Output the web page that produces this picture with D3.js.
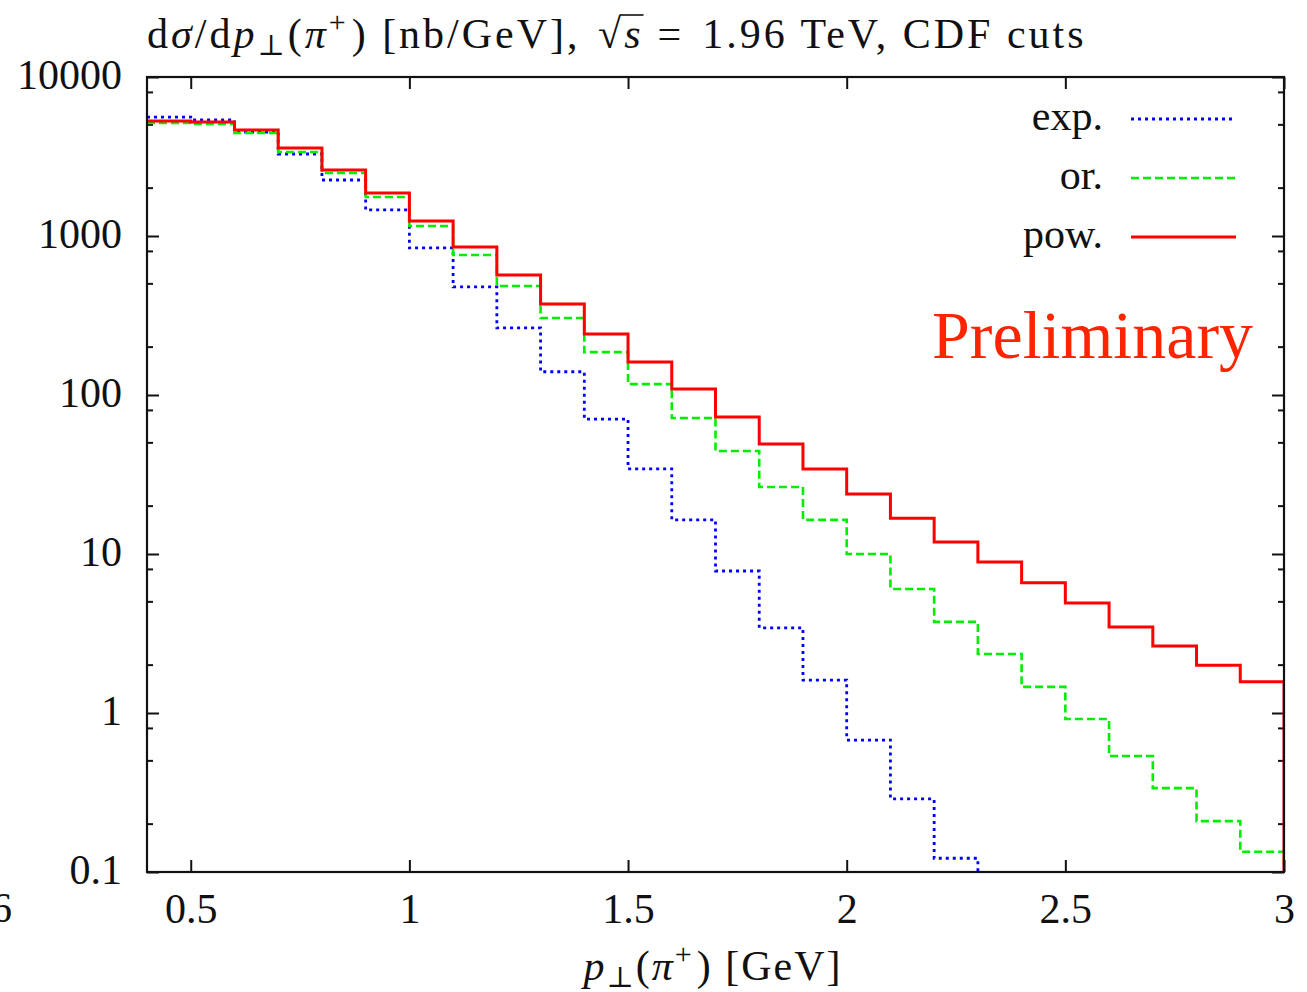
<!DOCTYPE html>
<html>
<head>
<meta charset="utf-8">
<script src="https://cdn.jsdelivr.net/npm/d3@7"></script>
<style>
  html, body { margin: 0; padding: 0; background: #fff; }
  svg text { font-family: "Liberation Serif", "DejaVu Serif", serif; fill: #111; }
</style>
</head>
<body>
<svg id="chart" width="1307" height="992"></svg>
<script>
// Lower edges of the 0.1 GeV bins
const binLow = [0.4, 0.5, 0.6, 0.7, 0.8, 0.9, 1.0, 1.1, 1.2, 1.3, 1.4, 1.5, 1.6,
                1.7, 1.8, 1.9, 2.0, 2.1, 2.2, 2.3, 2.4, 2.5, 2.6, 2.7, 2.8, 2.9];
const binWidth = 0.1;

// dσ/dp⊥ per bin [nb/GeV]
const expVals = [5600, 5370, 4510, 3280, 2250, 1460, 841, 478, 264, 140, 70.6, 34.3, 16.4,
                 7.82, 3.43, 1.61, 0.676, 0.288, 0.122];
const orVals  = [5140, 5060, 4440, 3375, 2490, 1758, 1156, 760, 485, 305, 186, 117, 71.6,
                 44.4, 26.4, 16.4, 10.0, 6.03, 3.74, 2.35, 1.46, 0.916, 0.537, 0.337, 0.209, 0.134];
const powVals = [5285, 5210, 4640, 3575, 2600, 1862, 1242, 853, 569, 373, 242, 161, 109,
                 72.8, 49.2, 34.3, 23.8, 16.8, 11.9, 8.9, 6.6, 4.92, 3.48, 2.64, 2.00, 1.57];

const seriesNames = ["exp.", "or.", "pow."];
const xTicks = [0.5, 1, 1.5, 2, 2.5, 3];
const yTicks = [0.1, 1, 10, 100, 1000, 10000];
const yMinorMult = [2, 5, 8];

const svg = d3.select("#chart");
const margin = { left: 147, right: 1284, top: 77, bottom: 872 };

const x = d3.scaleLinear().domain([0.4, 3.0]).range([margin.left, margin.right]);
const y = d3.scaleLog().domain([0.1, 10000]).range([margin.bottom, margin.top]);

const fontSize = 42;

svg.append("defs").append("clipPath").attr("id", "plotclip")
  .append("rect")
  .attr("x", margin.left).attr("y", margin.top)
  .attr("width", margin.right - margin.left)
  .attr("height", margin.bottom - margin.top);

// minor y ticks (2, 5, 8 per decade)
const yMinor = [];
for (let d = 0.1; d < 10000; d *= 10) yMinorMult.forEach(m => yMinor.push(+(d * m).toPrecision(3)));

const tickG = svg.append("g").attr("stroke", "#111").attr("stroke-width", 2);
yMinor.forEach(v => {
  const yy = y(v);
  tickG.append("line").attr("x1", margin.left).attr("x2", margin.left + 6).attr("y1", yy).attr("y2", yy);
  tickG.append("line").attr("x1", margin.right).attr("x2", margin.right - 6).attr("y1", yy).attr("y2", yy);
});

// bottom axis with ticks pointing into the plot
const xAxis = svg.append("g")
  .attr("transform", `translate(0,${margin.bottom})`)
  .call(d3.axisBottom(x).tickValues(xTicks).tickFormat(d3.format("")).tickSizeInner(-12).tickSizeOuter(0).tickPadding(21));
xAxis.select(".domain").remove();
xAxis.selectAll("line").attr("stroke", "#111").attr("stroke-width", 2);
xAxis.selectAll("text").attr("font-size", fontSize).attr("font-family", "Liberation Serif").attr("fill", "#111");

// top axis ticks
const xTop = svg.append("g")
  .attr("transform", `translate(0,${margin.top})`)
  .call(d3.axisTop(x).tickValues(xTicks).tickFormat("").tickSizeInner(-12).tickSizeOuter(0));
xTop.select(".domain").remove();
xTop.selectAll("line").attr("stroke", "#111").attr("stroke-width", 2);

// left axis
const yAxis = svg.append("g")
  .attr("transform", `translate(${margin.left},0)`)
  .call(d3.axisLeft(y).tickValues(yTicks).tickFormat(d3.format("")).tickSizeInner(-12).tickSizeOuter(0).tickPadding(25));
yAxis.select(".domain").remove();
yAxis.selectAll("line").attr("stroke", "#111").attr("stroke-width", 2);
yAxis.selectAll("text").attr("font-size", fontSize).attr("font-family", "Liberation Serif").attr("fill", "#111").attr("dy", "0.27em");

// right axis ticks
const yRight = svg.append("g")
  .attr("transform", `translate(${margin.right},0)`)
  .call(d3.axisRight(y).tickValues(yTicks).tickFormat("").tickSizeInner(-12).tickSizeOuter(0));
yRight.select(".domain").remove();
yRight.selectAll("line").attr("stroke", "#111").attr("stroke-width", 2);

// tick label partly outside the page on the left
svg.append("text").attr("x", 12).attr("y", 922).attr("text-anchor", "end")
  .attr("font-size", fontSize).text("6");

// histogram step paths (start at the first bin's height, drop to the baseline after the last bin)
function stepPath(vals) {
  const yb = margin.bottom + 20;
  const yc = v => (v > 0 ? Math.min(y(v), yb) : yb);
  let p = "";
  vals.forEach((v, i) => {
    const lo = binLow[i], hi = lo + binWidth;
    p += `${i === 0 ? "M" : "L"}${x(lo)},${yc(v)}L${x(hi)},${yc(v)}`;
  });
  const lastHi = binLow[vals.length - 1] + binWidth;
  p += `L${x(lastHi)},${yb}`;
  return p;
}

const styles = [
  { vals: expVals, color: "#0000ff", dash: "3,4", width: 2.8 },
  { vals: orVals,  color: "#00ee00", dash: "8,4", width: 2.6 },
  { vals: powVals, color: "#ff0000", dash: null,  width: 3 }
];

const plotG = svg.append("g").attr("clip-path", "url(#plotclip)");
styles.forEach(s => {
  plotG.append("path")
    .attr("d", stepPath(s.vals))
    .attr("fill", "none")
    .attr("stroke", s.color)
    .attr("stroke-width", s.width)
    .attr("stroke-dasharray", s.dash);
});

// frame
svg.append("rect")
  .attr("x", margin.left).attr("y", margin.top)
  .attr("width", margin.right - margin.left)
  .attr("height", margin.bottom - margin.top)
  .attr("fill", "none").attr("stroke", "#111").attr("stroke-width", 2.2);

// legend
const legendRows = [119, 178, 237];
styles.forEach((s, i) => {
  svg.append("text").attr("x", 1103).attr("y", legendRows[i] + 11)
    .attr("text-anchor", "end").attr("font-size", fontSize).text(seriesNames[i]);
  svg.append("line")
    .attr("x1", 1131).attr("x2", 1236).attr("y1", legendRows[i]).attr("y2", legendRows[i])
    .attr("stroke", s.color).attr("stroke-width", s.width)
    .attr("stroke-dasharray", s.dash);
});

svg.append("text").attr("x", 932).attr("y", 358)
  .attr("font-size", 68).style("fill", "#ff2400").text("Preliminary");

// title with math notation
const title = svg.append("text").attr("x", 147).attr("y", 48)
  .attr("font-size", fontSize).style("letter-spacing", "3px");
title.append("tspan").text("d");
title.append("tspan").attr("font-style", "italic").text("σ");
title.append("tspan").text("/d");
title.append("tspan").attr("font-style", "italic").text("p");
title.append("tspan").attr("font-size", 29).attr("dy", 7).text("⊥");
title.append("tspan").attr("dy", -7).text("(");
title.append("tspan").attr("font-style", "italic").text("π");
title.append("tspan").attr("font-size", 30).attr("dy", -16).text("+");
title.append("tspan").attr("dy", 16).attr("dx", 3).text(") [nb/GeV], ");
title.append("tspan").attr("dx", 4).text("√");
title.append("tspan").attr("font-style", "italic").text("s");
title.append("tspan").attr("dx", 14).text("=");
title.append("tspan").attr("dx", 18).text("1.96 TeV, CDF cuts");

// overline of the square root
const tNode = title.node();
const full = tNode.textContent;
const ri = full.indexOf("√");
const rootEnd = tNode.getEndPositionOfChar(ri).x;
const sEnd = tNode.getEndPositionOfChar(ri + 1).x;
svg.append("line")
  .attr("x1", rootEnd - 4).attr("x2", sEnd)
  .attr("y1", 48 - 33).attr("y2", 48 - 33)
  .attr("stroke", "#111").attr("stroke-width", 1.6);

// x-axis title
const xl = svg.append("text").attr("x", 713).attr("y", 980).attr("text-anchor", "middle")
  .attr("font-size", fontSize).style("letter-spacing", "2px");
xl.append("tspan").attr("font-style", "italic").text("p");
xl.append("tspan").attr("font-size", 29).attr("dy", 7).text("⊥");
xl.append("tspan").attr("dy", -7).text("(");
xl.append("tspan").attr("font-style", "italic").text("π");
xl.append("tspan").attr("font-size", 30).attr("dy", -16).text("+");
xl.append("tspan").attr("dy", 16).attr("dx", 3).text(")  [GeV]");
</script>
</body>
</html>
